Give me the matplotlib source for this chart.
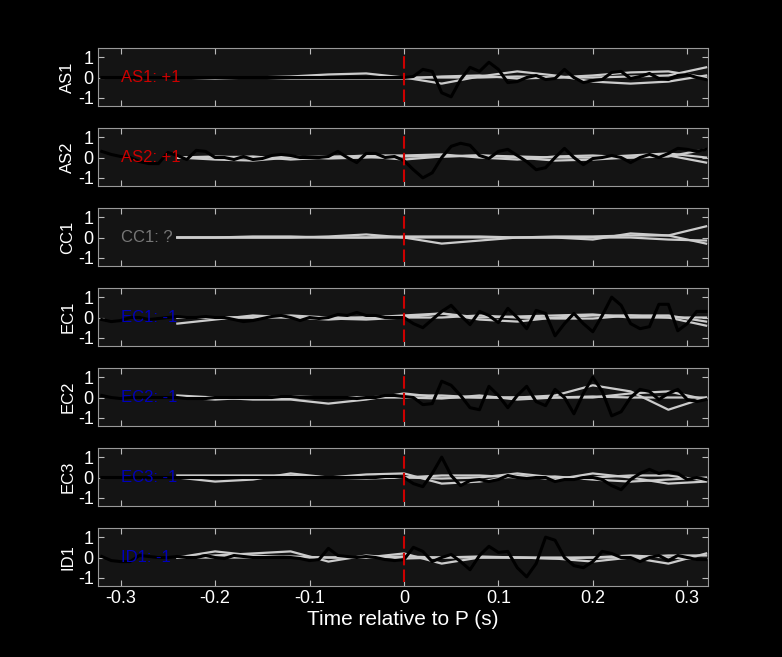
import numpy as np
import matplotlib.pyplot as plt

plt.rcParams['font.family'] = ['Liberation Sans', 'DejaVu Sans']

stations = ['AS1', 'AS2', 'CC1', 'EC1', 'EC2', 'EC3', 'ID1']
labels = ['AS1: +1', 'AS2: +1', 'CC1: ?', 'EC1: -1', 'EC2: -1', 'EC3: -1', 'ID1: -1']
label_colors = ['#cc0000', '#cc0000', '#777777', '#0000bb', '#0000bb', '#0000bb', '#0000bb']

# black (observed) trace, sampled every 0.01 s from -0.32 to 0.32
t_black = np.round(np.arange(-0.32, 0.3201, 0.01), 2)
black = {
    'AS1': [0, 0, 0, 0, 0, 0, 0, 0, 0, 0, 0, 0, 0, 0, 0, 0, 0, 0, 0, 0, 0, 0, 0, 0, 0, 0, 0, 0, 0, 0, 0, 0,
            0.0, 0.05, 0.4, 0.3, -0.75, -0.95, -0.1, 0.5, 0.3, 0.75, 0.4, -0.25, -0.2, 0.0, 0.1, -0.1, -0.05,
            0.4, 0.0, -0.25, -0.15, -0.1, 0.25, 0.3, -0.05, 0.05, 0.2, -0.05, -0.1, 0.1, 0.15, 0.0, -0.1],
    'AS2': [0.3, 0.15, 0.05, 0.0, -0.2, -0.3, -0.3, 0.25, 0.1, -0.1, 0.35, 0.3, 0.0, 0.0, -0.1, 0.05,
            -0.1, -0.05, 0.1, 0.15, 0.1, 0.0, 0.0, 0.0, 0.05, 0.3, 0.0, -0.25, 0.2, 0.2, 0.0, 0.05,
            -0.15, -0.6, -1.0, -0.75, 0.0, 0.55, 0.7, 0.6, 0.1, -0.05, 0.3, 0.4, 0.1, -0.2, -0.6, -0.5,
            0.0, 0.45, 0.0, -0.35, -0.05, 0.0, 0.1, 0.0, -0.25, 0.0, 0.15, 0.0, 0.2, 0.45, 0.4, 0.3, 0.4],
    'CC1': None,
    'EC1': [-0.1, -0.2, -0.15, 0.0, 0.0, -0.1, -0.05, 0.0, 0.05, 0.0, 0.0, 0.05, 0.0, 0.0, -0.1, -0.2,
            -0.15, -0.05, 0.05, 0.1, 0.0, -0.15, 0.0, -0.05, 0.0, 0.15, 0.1, 0.25, 0.1, 0.1, 0.0, 0.0,
            0.0, -0.3, -0.5, -0.1, 0.3, 0.6, 0.1, -0.35, 0.3, 0.1, -0.25, 0.45, 0.0, -0.55, 0.35, 0.2,
            -0.9, -0.3, 0.2, -0.3, -0.7, 0.1, 1.0, 0.6, -0.3, -0.55, -0.45, 0.65, 0.65, -0.65, -0.3, 0.3, 0.3],
    'EC2': [0.1, 0.0, -0.05, 0.0, 0.0, 0.0, 0.0, 0.0, 0.0, -0.05, -0.05, -0.05, 0.0, 0.0, 0.0, 0.0,
            0.0, 0.0, 0.0, 0.05, 0.05, 0.0, 0.0, 0.0, 0.0, 0.0, 0.0, -0.05, 0.0, 0.0, 0.1, 0.1,
            0.05, 0.0, -0.35, -0.3, 0.8, 0.6, 0.1, -0.5, -0.6, 0.55, 0.1, -0.5, 0.1, 0.55, -0.2, -0.4,
            0.4, 0.0, -0.8, 0.2, 1.0, 0.3, -0.9, -0.7, 0.0, 0.4, 0.3, -0.1, 0.2, 0.4, -0.1, -0.2, -0.1],
    'EC3': [0, 0, 0, 0, 0, 0, 0, 0, 0, 0, 0, 0, 0, 0, 0, 0, 0, 0, 0, 0, 0, 0, 0, 0, 0, 0, 0, 0, 0, 0, 0.05, 0.05,
            0.0, -0.3, -0.45, 0.2, 1.0, 0.1, -0.4, -0.15, -0.1, -0.2, -0.1, 0.1, 0.0, -0.05, 0.0, 0.0,
            -0.2, -0.1, -0.1, 0.0, 0.0, -0.1, -0.4, -0.6, -0.1, 0.2, 0.4, 0.2, 0.3, 0.2, -0.1, 0.0, -0.1],
    'ID1': [0.05, -0.15, -0.2, -0.2, 0.1, 0.05, 0.0, 0.0, 0.05, 0.0, 0.0, 0.1, 0.0, -0.05, 0.1, 0.05,
            0.0, 0.0, 0.0, 0.0, 0.0, -0.05, -0.15, -0.1, 0.45, 0.1, 0.05, 0.0, 0.05, 0.0, -0.1, -0.15,
            -0.1, 0.5, 0.3, -0.2, 0.0, 0.15, -0.2, -0.6, 0.1, 0.55, 0.25, 0.3, -0.5, -0.95, -0.3, 1.0,
            0.85, 0.0, -0.4, -0.5, -0.2, 0.3, 0.2, 0.0, 0.0, -0.2, 0.0, 0.1, -0.15, 0.1, 0.0, -0.1, -0.1],
}

# gray (synthetic) traces, sampled every 0.04 s from -0.24 to 0.32
t_gray = np.round(np.arange(-0.24, 0.3201, 0.04), 2)
gray = {
    'AS1': [[0.0, 0.0, 0.0, 0.05, 0.15, 0.2, 0.0, -0.3, 0.05, 0.3, 0.1, -0.2, -0.3, -0.2, 0.1],
            [0.0, -0.05, 0.0, -0.05, -0.05, -0.05, -0.05, 0.05, 0.1, -0.05, 0.0, 0.1, 0.25, 0.3, 0.0],
            [0.0, 0.0, 0.0, 0.0, 0.0, 0.0, 0.0, 0.0, 0.0, 0.05, 0.0, 0.0, 0.05, 0.1, 0.5]],
    'AS2': [[0.0, -0.1, -0.15, 0.0, 0.05, 0.05, -0.1, 0.05, 0.1, 0.0, -0.15, -0.1, 0.0, 0.1, -0.25],
            [0.0, 0.0, 0.05, -0.1, 0.0, 0.1, 0.1, 0.15, 0.0, -0.1, 0.05, 0.1, 0.0, 0.05, 0.4],
            [0.0, 0.05, 0.0, 0.05, -0.05, 0.0, 0.05, 0.05, 0.1, 0.05, 0.0, 0.0, 0.1, 0.2, 0.0]],
    'CC1': [[0.0, 0.0, 0.0, 0.0, 0.05, 0.15, 0.0, -0.3, -0.15, 0.0, 0.0, -0.1, 0.2, 0.1, -0.3],
            [0.0, 0.0, 0.05, 0.05, 0.0, 0.0, 0.05, 0.05, 0.05, 0.0, 0.05, 0.05, 0.1, 0.1, 0.55],
            [0.0, 0.0, 0.0, 0.0, 0.0, 0.0, 0.0, 0.0, 0.0, 0.0, 0.0, 0.0, 0.0, -0.1, -0.15]],
    'EC1': [[-0.3, -0.1, 0.1, 0.0, -0.1, 0.0, 0.1, 0.2, -0.1, -0.2, 0.0, 0.1, 0.1, 0.0, -0.4],
            [0.0, 0.0, 0.0, 0.1, 0.0, 0.0, 0.0, 0.2, 0.0, 0.05, 0.1, 0.15, 0.0, 0.0, 0.0],
            [0.0, 0.0, 0.0, 0.0, -0.05, -0.1, 0.0, 0.0, 0.1, 0.0, -0.05, -0.05, 0.1, 0.1, -0.2]],
    'EC2': [[0.1, 0.0, -0.1, -0.1, -0.3, -0.1, 0.2, 0.0, 0.0, 0.0, 0.1, 0.6, 0.3, -0.6, 0.0],
            [0.0, -0.1, 0.0, 0.05, 0.0, 0.0, 0.1, 0.1, 0.0, 0.0, 0.0, 0.0, 0.2, 0.3, -0.1],
            [0.0, 0.0, -0.05, -0.05, 0.0, 0.0, 0.0, -0.05, 0.1, -0.1, 0.0, 0.05, 0.0, 0.0, 0.0]],
    'EC3': [[0.1, 0.1, 0.1, 0.1, 0.0, 0.15, 0.2, -0.3, -0.2, 0.1, -0.1, 0.2, 0.0, -0.3, -0.2],
            [0.0, -0.2, -0.1, 0.2, 0.0, -0.05, 0.0, 0.1, 0.1, 0.0, 0.05, -0.1, -0.2, -0.1, 0.0],
            [0.0, 0.0, 0.05, 0.0, 0.0, 0.0, 0.0, -0.05, 0.0, 0.2, 0.0, 0.0, 0.1, 0.1, -0.15]],
    'ID1': [[0.0, 0.3, 0.1, 0.0, 0.0, 0.0, 0.2, -0.3, 0.0, 0.0, -0.05, -0.2, 0.0, -0.3, 0.2],
            [0.0, 0.1, 0.2, 0.3, -0.2, 0.1, -0.05, 0.0, 0.05, 0.0, 0.0, 0.0, 0.1, 0.0, -0.1],
            [0.0, 0.0, 0.0, 0.05, 0.0, 0.0, 0.05, 0.0, 0.0, 0.0, -0.05, 0.0, 0.0, 0.1, 0.1]],
}

fig = plt.figure(figsize=(7.82, 6.57), dpi=100, facecolor='black')
for i, st in enumerate(stations):
    top = 48 + 80 * i
    ax = fig.add_axes([98 / 782, 1 - (top + 58) / 657, 610 / 782, 58 / 657])
    ax.set_facecolor('#141414')
    for g in gray[st]:
        ax.plot(t_gray, g, color='#cccccc', lw=1.6)
    if black[st] is not None:
        ax.plot(t_black, black[st], color='black', lw=2.2)
    ax.plot([0, 0], [-1.2, 1.2], color='#cc0000', lw=1.5, ls=(0, (6, 2)))
    ax.text(-0.3, 0, labels[i], color=label_colors[i], fontsize=12, va='center')
    ax.set_xlim(-0.324, 0.322)
    ax.set_ylim(-1.4, 1.45)
    ax.set_yticks([-1, 0, 1])
    ax.set_yticklabels(['-1', '0', '1'])
    ax.set_xticks([-0.3, -0.2, -0.1, 0, 0.1, 0.2, 0.3])
    ax.tick_params(direction='in', top=True, right=True, colors='#bbbbbb',
                   labelcolor='white', labelsize=13, length=4, pad=3)
    for s in ax.spines.values():
        s.set_color('#999999')
    ax.set_ylabel(st, color='white', fontsize=12, labelpad=2)
    if i < len(stations) - 1:
        ax.set_xticklabels([])
    else:
        ax.set_xticklabels(['-0.3', '-0.2', '-0.1', '0', '0.1', '0.2', '0.3'])
        ax.set_xlabel('Time relative to P (s)', color='white', fontsize=15, labelpad=2)

fig.savefig('out.png', dpi=100, facecolor='black')
